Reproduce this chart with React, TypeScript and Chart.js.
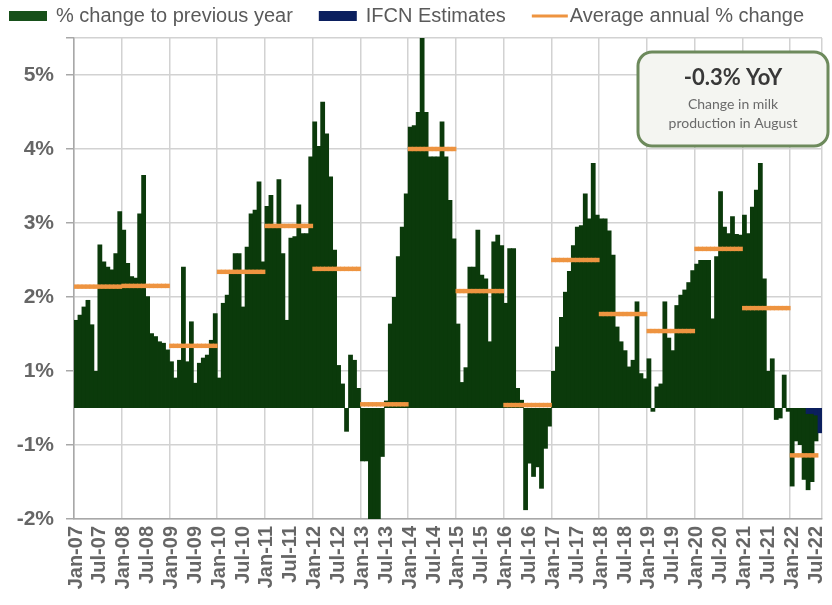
import React, { useEffect, useRef } from 'react';
import { Chart, registerables } from 'chart.js';

Chart.register(...registerables);

// ---------- data ----------
const monthNames = ['Jan', 'Feb', 'Mar', 'Apr', 'May', 'Jun', 'Jul', 'Aug', 'Sep', 'Oct', 'Nov', 'Dec'];
const yearLabels = ['07', '08', '09', '10', '11', '12', '13', '14', '15', '16', '17', '18', '19', '20', '21', '22'];
const lastCategory = 'Aug-22';

// % change to previous year (monthly)
const growth2007 = [1.19, 1.26, 1.37, 1.46, 1.13, 0.5, 2.21, 1.98, 1.91, 1.87, 2.09, 2.66];
const growth2008 = [2.41, 1.96, 1.78, 1.76, 2.63, 3.15, 1.51, 1.01, 0.97, 0.9, 0.88, 0.79];
const growth2009 = [0.63, 0.41, 0.65, 1.91, 0.63, 1.17, 0.34, 0.61, 0.68, 0.72, 0.92, 1.28];
const growth2010 = [0.41, 1.42, 1.53, 1.82, 2.09, 2.09, 1.37, 2.18, 2.63, 2.68, 3.06, 1.98];
const growth2011 = [2.73, 2.88, 2.45, 3.09, 2.09, 1.19, 2.3, 2.32, 2.75, 2.36, 2.36, 3.4];
const growth2012 = [3.87, 3.54, 4.14, 3.71, 3.13, 2.14, 0.58, 0.33, -0.32, 0.72, 0.65, 0.27];
const growth2013 = [-0.72, -0.72, -2.0, -2.4, -2.2, -0.66, 0.1, 1.14, 1.5, 2.05, 2.45, 2.9];
const growth2014 = [3.8, 3.82, 4.0, 5.1, 4.0, 3.4, 3.4, 3.4, 3.87, 3.4, 2.81, 2.29];
const growth2015 = [1.14, 0.35, 0.55, 1.91, 1.91, 2.41, 1.8, 1.75, 0.9, 2.25, 2.34, 2.2];
const growth2016 = [1.42, 2.16, 2.16, 0.27, 0.11, -1.38, -0.75, -0.93, -0.8, -1.09, -0.55, -0.25];
const growth2017 = [0.5, 0.83, 1.23, 1.57, 1.85, 2.2, 2.45, 2.47, 2.9, 2.56, 3.31, 2.61];
const growth2018 = [2.56, 2.56, 2.4, 2.07, 1.1, 0.9, 0.78, 0.56, 0.65, 1.44, 0.47, 0.4];
const growth2019 = [0.67, -0.05, 0.29, 0.33, 1.44, 0.95, 0.78, 1.39, 1.53, 1.6, 1.7, 1.86];
const growth2020 = [1.95, 2.0, 2.0, 2.0, 1.21, 2.05, 2.93, 2.45, 2.36, 2.59, 2.35, 2.34];
const growth2021 = [2.61, 2.36, 2.72, 2.95, 3.31, 1.75, 0.5, 0.67, -0.16, -0.14, 0.45, -0.05];
const growth2022 = [-1.06, -0.45, -0.5, -0.97, -1.11, -1.0, -0.45, null];

// IFCN estimates (recent months)
const estimateMonths = ['May-22', 'Jun-22', 'Jul-22', 'Aug-22'];
const estimateValues = [-0.08, -0.08, -0.1, -0.34];

// average annual % change, one per year 2007..2022
const annualAverage = [1.64, 1.65, 0.84, 1.84, 2.46, 1.88, 0.05, 3.5, 1.58, 0.04, 2.0, 1.27, 1.04, 2.15, 1.35, -0.64];

// y axis: gridline positions and their printed labels
const yTickValues = [-1.5, -0.5, 0.5, 1.5, 2.5, 3.5, 4.5];
const yTickLabels = ['-2%', '-1%', '1%', '2%', '3%', '4%', '5%'];

const legendLabels = ['% change to previous year', 'IFCN Estimates', 'Average annual % change'];
const calloutTitle = '-0.3% YoY';
const calloutLines = ['Change in milk', 'production in August'];

// ---------- derived tables ----------
const pctChange: (number | null)[] = [
  ...growth2007, ...growth2008, ...growth2009, ...growth2010, ...growth2011, ...growth2012,
  ...growth2013, ...growth2014, ...growth2015, ...growth2016, ...growth2017, ...growth2018,
  ...growth2019, ...growth2020, ...growth2021, ...growth2022,
];

const categories: string[] = [];
outer: for (const y of yearLabels) {
  for (const m of monthNames) {
    const c = `${m}-${y}`;
    categories.push(c);
    if (c === lastCategory) break outer;
  }
}

const estimates = categories.map((c) => {
  const k = estimateMonths.indexOf(c);
  return k >= 0 ? estimateValues[k] : null;
});

// ---------- styles ----------
const GREEN = '#0b3a0b';
const NAVY = '#0b1f5e';
const ORANGE = '#ee9440';
const GRID = '#d2d2d2';
const AXIS = '#a8a8a8';
const TEXT = '#5a5a5a';
const TICK_TEXT = '#666666';
const FONT = "'Liberation Sans', Arial, sans-serif";
const AVG_HALF_THICKNESS = 0.03;

const averageBand = categories.map((c, i) => {
  if (pctChange[i] == null) return null;
  const a = annualAverage[Math.floor(i / 12)];
  return [a - AVG_HALF_THICKNESS, a + AVG_HALF_THICKNESS];
});

const legendPlugin = {
  id: 'customLegend',
  afterDraw(chart: any) {
    const ctx = chart.ctx as CanvasRenderingContext2D;
    ctx.save();
    ctx.font = `20px ${FONT}`;
    ctx.textBaseline = 'middle';
    const cy = 16;
    let x = 9;
    const kinds = [
      { color: '#17501a', kind: 'box' },
      { color: NAVY, kind: 'box' },
      { color: ORANGE, kind: 'line' },
    ];
    legendLabels.forEach((text, i) => {
      const k = kinds[i];
      if (k.kind === 'box') {
        ctx.fillStyle = k.color;
        ctx.fillRect(x, cy - 5, 38, 10);
        x += 38 + 9;
      } else {
        ctx.strokeStyle = k.color;
        ctx.lineWidth = 3;
        ctx.beginPath();
        ctx.moveTo(x, cy);
        ctx.lineTo(x + 36, cy);
        ctx.stroke();
        x += 36 + 2;
      }
      ctx.fillStyle = TEXT;
      ctx.fillText(text, x, cy);
      x += ctx.measureText(text).width + 26;
    });
    ctx.restore();
  },
};

const calloutPlugin = {
  id: 'callout',
  afterDraw(chart: any) {
    const ctx = chart.ctx as CanvasRenderingContext2D;
    const x = 638, y = 52, w = 190, h = 94, r = 14;
    ctx.save();
    ctx.beginPath();
    ctx.moveTo(x + r, y);
    ctx.arcTo(x + w, y, x + w, y + h, r);
    ctx.arcTo(x + w, y + h, x, y + h, r);
    ctx.arcTo(x, y + h, x, y, r);
    ctx.arcTo(x, y, x + w, y, r);
    ctx.closePath();
    ctx.fillStyle = '#f4f5f1';
    ctx.fill();
    ctx.lineWidth = 3;
    ctx.strokeStyle = '#6d8a5c';
    ctx.stroke();
    ctx.textAlign = 'center';
    ctx.textBaseline = 'middle';
    ctx.fillStyle = '#383838';
    ctx.font = "bold 22px Lato, 'Open Sans', sans-serif";
    ctx.fillText(calloutTitle, x + w / 2, 78);
    ctx.fillStyle = '#6a6a6a';
    ctx.font = "14px Lato, 'Open Sans', sans-serif";
    ctx.fillText(calloutLines[0], x + w / 2, 104);
    ctx.fillText(calloutLines[1], x + w / 2, 123);
    ctx.restore();
  },
};

export default function App() {
  const ref = useRef<HTMLCanvasElement>(null);
  useEffect(() => {
    const canvas = ref.current!;
    const chart = new Chart(canvas, {
      type: 'bar',
      data: {
        labels: categories,
        datasets: [
          {
            type: 'bar',
            label: legendLabels[0],
            data: pctChange as any,
            backgroundColor: GREEN,
            barPercentage: 1.2,
            categoryPercentage: 1,
            inflateAmount: 0,
            grouped: false,
            order: 2,
            clip: 0,
          } as any,
          {
            type: 'bar',
            label: legendLabels[1],
            data: estimates as any,
            backgroundColor: NAVY,
            barPercentage: 1.2,
            categoryPercentage: 1,
            inflateAmount: 0,
            grouped: false,
            order: 1,
            clip: 0,
          } as any,
          {
            type: 'bar',
            label: legendLabels[2],
            data: averageBand as any,
            backgroundColor: ORANGE,
            barPercentage: 1.2,
            categoryPercentage: 1,
            inflateAmount: 0,
            grouped: false,
            order: 0,
            clip: 0,
          } as any,
        ],
      },
      options: {
        responsive: false,
        animation: false,
        devicePixelRatio: 1,
        layout: { padding: { top: 38, right: 10, left: 0, bottom: 0 } },
        font: { family: FONT },
        plugins: {
          legend: { display: false },
          tooltip: { enabled: false },
        },
        scales: {
          x: {
            type: 'category',
            offset: true,
            grid: {
              offset: true,
              drawTicks: false,
              lineWidth: 1.5,
              color: (ctx: any) => (ctx.type !== 'tick' || ctx.index % 12 === 0 ? GRID : 'rgba(0,0,0,0)'),
            },
            border: { display: true, color: AXIS, width: 1.5 },
            ticks: {
              autoSkip: false,
              maxRotation: 90,
              minRotation: 90,
              padding: 7,
              color: TICK_TEXT,
              font: { family: FONT, size: 20, weight: 'bold' },
              callback: (_v: any, i: number) => (i % 6 === 0 ? categories[i] : ''),
            },
            afterFit: (s: any) => {
              s.height = 86;
              s.paddingLeft = 0;
              s.paddingRight = 0;
            },
          },
          y: {
            min: -1.5,
            max: 5,
            afterBuildTicks: (s: any) => {
              s.ticks = [...yTickValues, 5].map((v) => ({ value: v }));
            },
            ticks: {
              padding: 12,
              color: TICK_TEXT,
              font: { family: FONT, size: 21, weight: 'bold' },
              callback: (v: any) => {
                const k = yTickValues.indexOf(Number(v));
                return k >= 0 ? yTickLabels[k] : '';
              },
            },
            grid: { color: GRID, lineWidth: 1.5, tickLength: 8, tickColor: AXIS },
            border: { display: true, color: AXIS, width: 1.5 },
            afterFit: (s: any) => {
              s.width = 74;
              s.paddingTop = 0;
              s.paddingBottom = 0;
            },
          },
        },
      } as any,
      plugins: [legendPlugin, calloutPlugin],
    });
    return () => chart.destroy();
  }, []);

  return (
    <div style={{ position: 'fixed', left: 0, top: 0, width: 832, height: 605, background: '#fff' }}>
      <canvas ref={ref} width={832} height={605} style={{ display: 'block' }} />
    </div>
  );
}
